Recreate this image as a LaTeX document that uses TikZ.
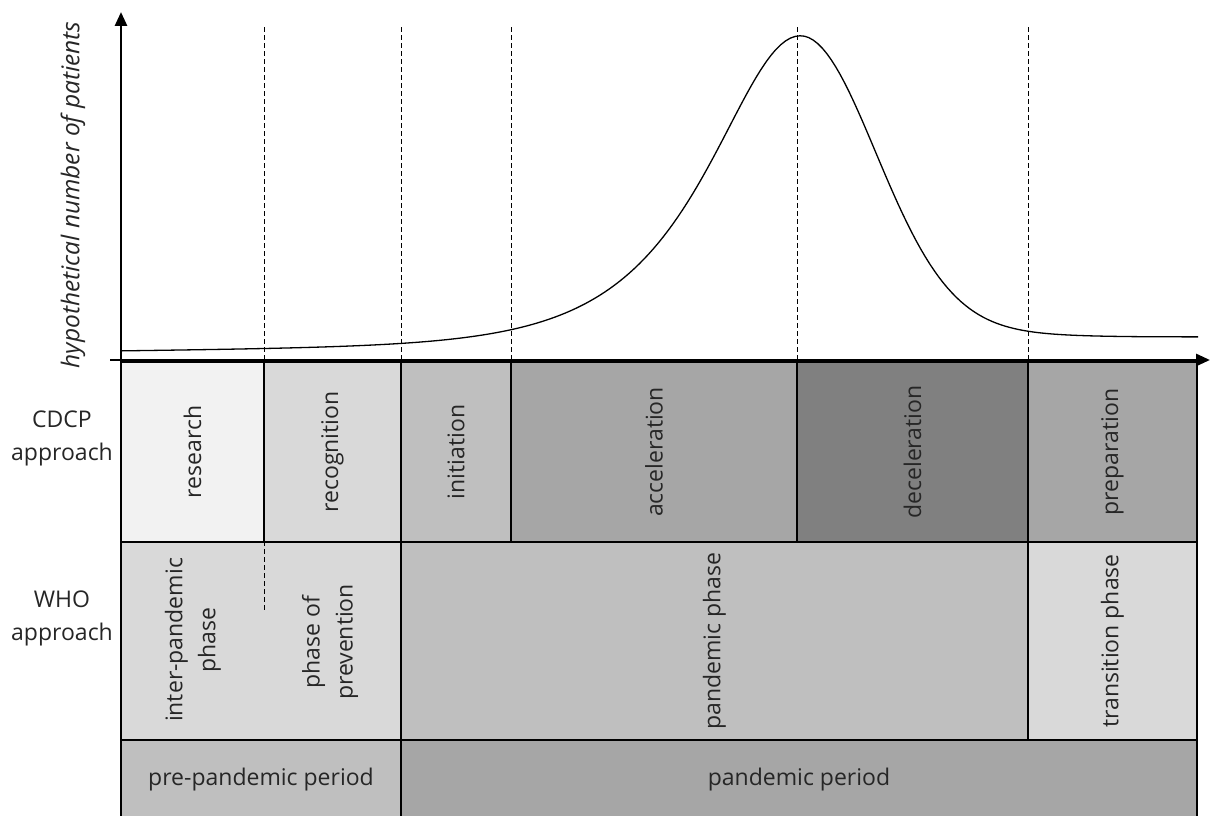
\documentclass[tikz,border=0pt]{standalone}
\usepackage{fontspec}
\setmainfont{Open Sans}
\usetikzlibrary{arrows.meta}

\definecolor{grayA}{HTML}{F2F2F2}
\definecolor{grayB}{HTML}{D9D9D9}
\definecolor{grayC}{HTML}{BFBFBF}
\definecolor{grayD}{HTML}{A6A6A6}
\definecolor{grayE}{HTML}{808080}
\definecolor{txt}{HTML}{262626}

\tikzset{
  cell/.style={draw, line width=2.8pt, inner sep=0pt, text=txt, align=center},
  vcell/.style={cell, rotate=90},
  axis/.style={line width=2.8pt, -{Triangle[length=14pt,width=12pt]}},
  guide/.style={line width=1pt, dash pattern=on 5pt off 3pt},
}

\begin{document}
\begin{tikzpicture}[x=1pt,y=1pt,font=\fontsize{23}{33}\selectfont]
\useasboundingbox (0,0) rectangle (1210,816);

% CDCP row
\node[vcell,fill=grayA,minimum width=180pt,minimum height=143pt] (research) at (192.5,364) {research};
\node[vcell,fill=grayB,minimum width=180pt,minimum height=137pt] (recog) at (332.5,364) {recognition};
\node[vcell,fill=grayC,minimum width=180pt,minimum height=110pt] (init) at (456,364) {initiation};
\node[vcell,fill=grayD,minimum width=180pt,minimum height=286pt] (accel) at (654,364) {acceleration};
\node[vcell,fill=grayE,minimum width=180pt,minimum height=231pt] (decel) at (912.5,364) {deceleration};
\node[vcell,fill=grayD,minimum width=180pt,minimum height=169pt] (prep) at (1112.5,364) {preparation};

% WHO row
\node[cell,fill=grayB,minimum width=280pt,minimum height=198pt] (whopre) at (261,175) {};
\node[rotate=90,text=txt,align=center] (interpan) at (193,176) {inter-pandemic\\phase};
\node[rotate=90,text=txt,align=center] (prevent) at (330,174) {phase of\\prevention};
\coordinate (split) at (264,206);
\draw[guide] (split) -- (split |- whopre.north);
\node[vcell,fill=grayC,minimum width=198pt,minimum height=627pt] (panphase) at (714.5,175) {pandemic phase};
\node[vcell,fill=grayB,minimum width=198pt,minimum height=169pt] (trans) at (1112.5,175) {transition phase};

% periods
\node[cell,fill=grayC,minimum width=280pt,minimum height=80pt] (preper) at (261,36) {pre-pandemic period};
\node[cell,fill=grayD,minimum width=796pt,minimum height=80pt] (panper) at (799,36) {pandemic period};

% row labels
\node[text=txt,align=center] (cdcp) at (62,378) {CDCP\\approach};
\node[text=txt,align=center] (who) at (62,198) {WHO\\approach};

% axes
\coordinate (origin) at (121,456);
\coordinate (xstart) at (110,456);
\coordinate (xend) at (1210,456);
\coordinate (yend) at (121,804);
\draw[axis] (xstart) -- (xend);
\draw[axis] (origin) -- (yend);
\node[rotate=90,text=txt,font=\fontsize{24.5}{28}\itshape] (ylab) at (73,621) {hypothetical number of patients};

\foreach \x in {264,401,511,797,1028}
  \draw[guide] (\x,456) -- (\x,789);

% epidemic curve
\draw[line width=1.3pt]
  plot[domain=121:800,samples=140] (\x,{465+(\x-121)*0.0121+614/(exp((\x-800)/80)+exp((800-\x)/80))})
  -- plot[domain=800:1198,samples=90] (\x,{473.2+(\x-800)*0.0121+277*exp(-((\x-800)/75)^2/2)+60/(exp((\x-800)/100)+exp((800-\x)/100))});

\end{tikzpicture}
\end{document}
